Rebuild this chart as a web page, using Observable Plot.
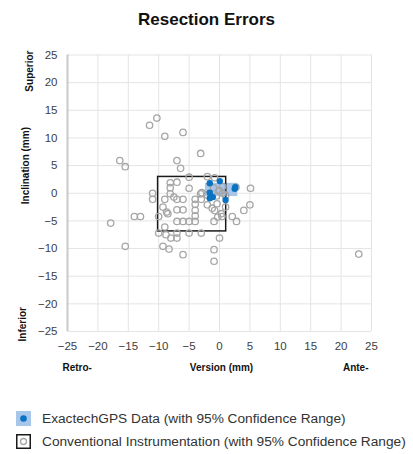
<!DOCTYPE html>
<html>
<head>
<meta charset="utf-8">
<script src="https://cdn.jsdelivr.net/npm/d3@7"></script>
<script src="https://cdn.jsdelivr.net/npm/@observablehq/plot@0.6"></script>
<style>
  html, body { margin: 0; padding: 0; background: #fff; }
  body { width: 413px; height: 454px; overflow: hidden; font-family: "Liberation Sans", Arial, sans-serif; }
  #title { height: 40px; line-height: 40px; text-align: center; font-weight: bold; font-size: 17px; color: #111; }
  #legend { position: relative; height: 64px; }
  .item { position: absolute; left: 16px; display: flex; align-items: center; font-size: 13.7px; color: #333; white-space: nowrap; height: 15px; }
  .item svg { margin-right: 11px; flex: none; }
</style>
</head>
<body>
<div id="title">Resection Errors</div>
<div id="chart"></div>
<div id="legend"></div>
<script>
// Tick values
const xTicks = [-25, -20, -15, -10, -5, 0, 5, 10, 15, 20, 25];
const yTicks = [-25, -20, -15, -10, -5, 0, 5, 10, 15, 20, 25];

// ExactechGPS measurements (version, inclination)
const gpsX = [-1.6, 0.05, 2.6, 2.5, -1.6, -1.1, -1.6, 1.0];
const gpsY = [1.8, 2.2, 1.1, 0.8, 0.1, -0.7, -0.9, -1.2];

// Conventional instrumentation measurements (version, inclination)
const convX = [
  -10.3, -11.5, -9.0, -6.0, -3.1, -16.4, -15.5, -7.0, -6.4,
  -5.0, -2.0, -0.8, -8.1, -7.0, -5.0,
  -11.0, -11.0, -9.0, -8.1, -8.1, -7.5, -7.0, -6.0, -4.0, -3.0, -3.1, -2.9,
  5.1, 2.7, 5.0, 4.0, 2.1, 2.8, 0.3, 0.4, -0.3, -1.2, -0.8, -2.0, -0.4, -2.0,
  -9.3, -8.5, -8.7, -10.0, -7.0, -6.0, -4.0, -4.0, -4.0, -7.0, -6.0, -5.0, -4.0, -0.9,
  -14.0, -13.0, -17.9,
  -9.0, -10.0, -8.8, -8.0, -7.0, -7.0, -5.0, -3.0, 0.0, -15.5, -9.3, -8.3, -6.0, -0.9, -0.9,
  -1.0, 0.0, 0.5, 1.0, -0.5, 0.5, -0.1, 1.0,
  22.9
];
const convY = [
  13.6, 12.3, 10.3, 11.0, 7.2, 5.9, 4.8, 5.9, 4.5,
  2.9, 3.0, 2.8, 1.9, 2.0, 0.9,
  0.0, -1.1, -1.1, 1.0, -0.1, -0.7, -1.1, -1.1, -1.1, -1.1, -0.1, 0.1,
  0.9, 1.1, -2.1, -3.1, -4.2, -5.1, -3.7, -4.2, -4.3, -2.7, -3.1, -0.3, -1.9, -2.1,
  -2.5, -3.7, -3.4, -4.2, -3.0, -3.0, -2.0, -3.1, -4.1, -5.1, -5.1, -5.1, -5.1, -5.1,
  -4.2, -4.2, -5.4,
  -6.1, -7.2, -7.5, -8.1, -8.1, -7.2, -7.2, -7.2, -8.1, -9.6, -9.6, -10.1, -11.1, -10.2, -12.3,
  1.0, 0.5, 0.0, -0.4, -0.5, 1.2, 0.4, -2.5,
  -11.0
];

// 95% confidence ranges: [xMin, xMax, yMin, yMax]
const gpsRange = [-2.3, 3.0, -0.6, 1.8];
const convRange = [-10.1, 1.1, -6.9, 2.95];

const gpsData = gpsX.map((x, i) => ({x, y: gpsY[i]}));
const convData = convX.map((x, i) => ({x, y: convY[i]}));
const rangeRow = r => [{x1: r[0], x2: r[1], y1: r[2], y2: r[3]}];

const font = "Liberation Sans, Arial, sans-serif";

const chart = Plot.plot({
  width: 413,
  height: 350,
  marginLeft: 67,
  marginRight: 42,
  marginTop: 14.5,
  marginBottom: 59,
  style: {fontFamily: font, fontSize: "11.5px", color: "#404040", background: "#fff"},
  x: {domain: [-25, 25], label: null},
  y: {domain: [-25, 25], label: null},
  marks: [
    Plot.gridX(xTicks, {stroke: "#e4e4e4", strokeOpacity: 1}),
    Plot.gridY(yTicks, {stroke: "#e4e4e4", strokeOpacity: 1}),
    Plot.ruleX([-25], {stroke: "#c9c9c9", strokeWidth: 2}),
    Plot.rect(rangeRow(gpsRange), {x1: "x1", x2: "x2", y1: "y1", y2: "y2", fill: "#a7c6ea"}),
    Plot.rect(rangeRow(convRange), {x1: "x1", x2: "x2", y1: "y1", y2: "y2", fill: "none", stroke: "#1a1a1a", strokeWidth: 1.5}),
    Plot.dot(convData, {x: "x", y: "y", r: 3.2, stroke: "#a6a6a6", strokeWidth: 1.3, fill: "none"}),
    Plot.dot(gpsData, {x: "x", y: "y", r: 3.2, fill: "#0a72c2", stroke: "none"}),
    Plot.axisX(xTicks, {tickSize: 0, tickPadding: 10, fontSize: 11.5, fill: "#404040"}),
    Plot.axisY(yTicks, {tickSize: 0, tickPadding: 10, fontSize: 11.5, fill: "#404040"}),
    Plot.text(["Retro-"], {frameAnchor: "bottom-left", textAnchor: "start", dx: -5, dy: 39, fontWeight: "bold", fontSize: 10, fill: "#111"}),
    Plot.text(["Version (mm)"], {frameAnchor: "bottom", dx: 2, dy: 39, fontWeight: "bold", fontSize: 10, fill: "#111"}),
    Plot.text(["Ante-"], {frameAnchor: "bottom-right", textAnchor: "end", dx: -3, dy: 39, fontWeight: "bold", fontSize: 10, fill: "#111"}),
    Plot.text(["Inclination (mm)"], {frameAnchor: "left", dx: -42, dy: 11, rotate: -90, fontWeight: "bold", fontSize: 10, fill: "#111"}),
    Plot.text(["Superior"], {frameAnchor: "top-left", dx: -42, dy: -4.5, rotate: -90, textAnchor: "end", fontWeight: "bold", fontSize: 10, fill: "#111"}),
    Plot.text(["Inferior"], {frameAnchor: "bottom-left", dx: -42, dy: 10, rotate: -90, textAnchor: "start", fontWeight: "bold", fontSize: 10, fill: "#111"})
  ]
});
document.getElementById("chart").appendChild(chart);

// Legend
const legendItems = [
  {label: "ExactechGPS Data (with 95% Confidence Range)", kind: "gps"},
  {label: "Conventional Instrumentation (with 95% Confidence Range)", kind: "conv"}
];
const legend = document.getElementById("legend");
legendItems.forEach((d, i) => {
  const div = document.createElement("div");
  div.className = "item";
  div.style.top = (21 + i * 23) + "px";
  const sw = d.kind === "gps"
    ? `<svg width="15" height="15"><rect x="0" y="0" width="15" height="15" fill="#a7c6ea"/><circle cx="7.5" cy="7.5" r="3.3" fill="#0a72c2"/></svg>`
    : `<svg width="15" height="15"><rect x="0.75" y="0.75" width="13.5" height="13.5" fill="#fff" stroke="#1a1a1a" stroke-width="1.5"/><circle cx="7.5" cy="7.5" r="3" fill="none" stroke="#a6a6a6" stroke-width="1.3"/></svg>`;
  div.innerHTML = sw + `<span>${d.label}</span>`;
  legend.appendChild(div);
});
</script>
</body>
</html>
